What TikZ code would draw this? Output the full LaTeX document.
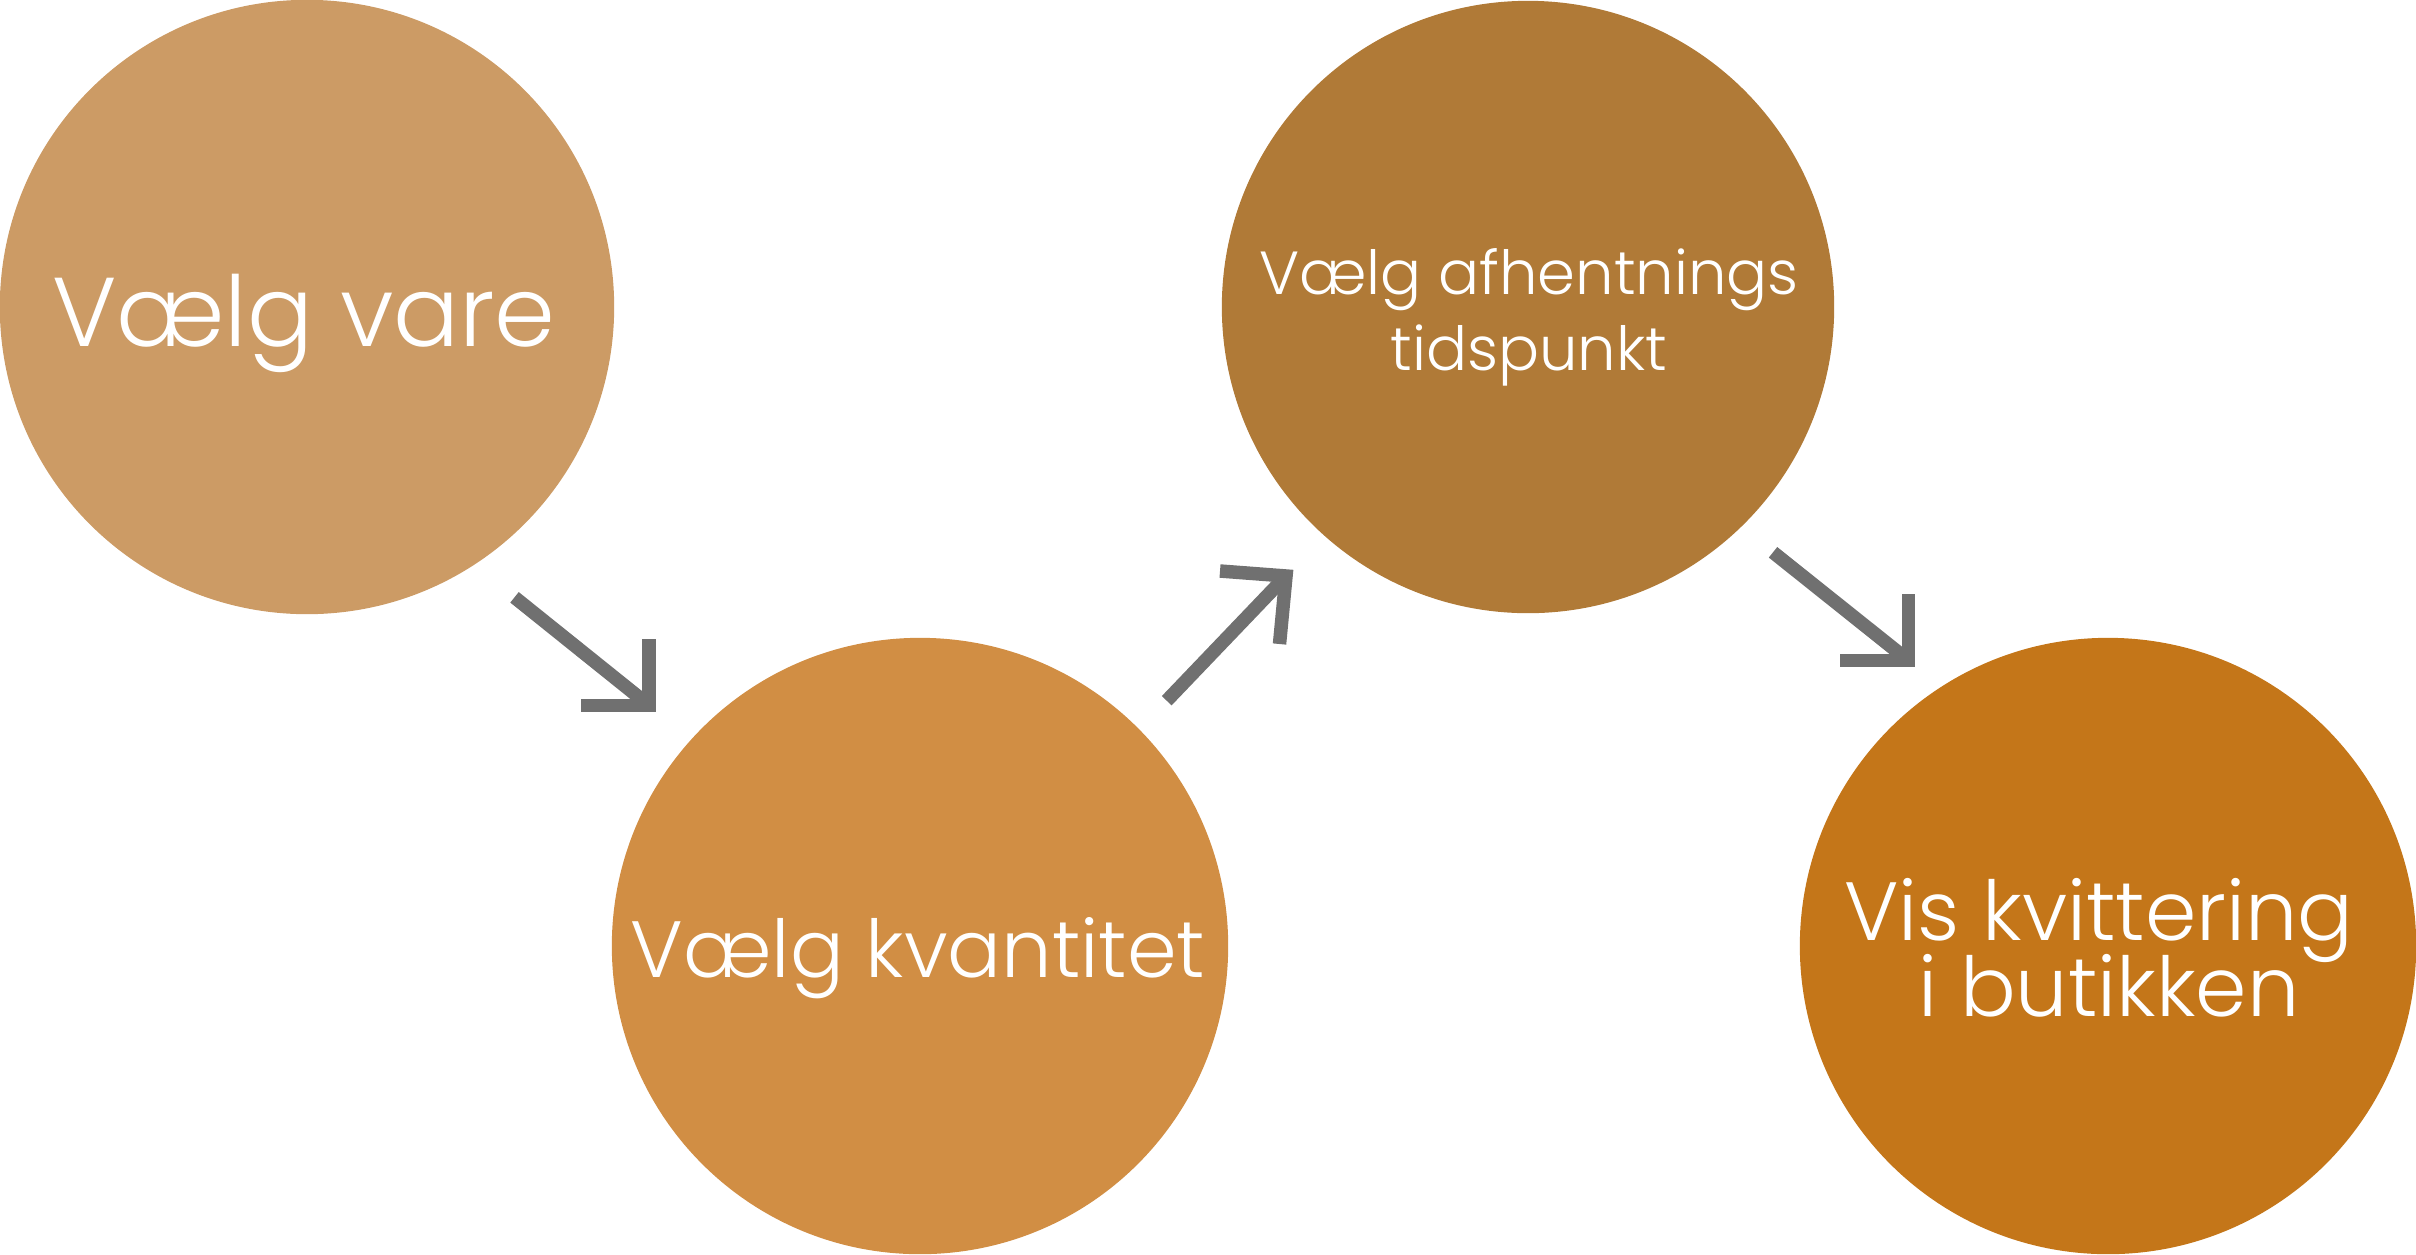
\documentclass[tikz,border=0pt]{standalone}
\usepackage{fontspec}
\setmainfont{Poppins Light}
\definecolor{cA}{HTML}{CC9B65}
\definecolor{cB}{HTML}{D18E44}
\definecolor{cC}{HTML}{B07A37}
\definecolor{cD}{HTML}{C47619}
\definecolor{arrgray}{HTML}{707070}
\tikzset{
  bubble/.style={circle, inner sep=0pt, draw=none},
  lbl/.style={text=white, inner sep=0pt, anchor=base},
  arrline/.style={draw=arrgray, line width=3.84pt, line cap=butt, line join=miter}
}
\begin{document}
\begin{tikzpicture}[x=0.01cm, y=-0.01cm]
\useasboundingbox (0,0) rectangle (2416,1254);
\node[bubble, fill=cA, minimum size=6.14cm] (c1) at (307,307) {};
\node[bubble, fill=cB, minimum size=6.16cm] (c2) at (920,946) {};
\node[bubble, fill=cC, minimum size=6.12cm] (c3) at (1528,307) {};
\node[bubble, fill=cD, minimum size=6.16cm] (c4) at (2108,946) {};

\node[lbl, font=\fontsize{27.8}{33}\selectfont] (t1) at (304,346) {Vælg vare};
\node[lbl, font=\fontsize{22.7}{27}\selectfont] (t2) at (918,977) {Vælg kvantitet};
\node[lbl, font=\fontsize{17.3}{21}\selectfont] (t3a) at (1529,294) {Vælg afhentnings};
\node[lbl, font=\fontsize{17.3}{21}\selectfont] (t3b) at (1529,370) {tidspunkt};
\node[lbl, font=\fontsize{23.5}{28}\selectfont] (t4a) at (2099,940) {Vis kvittering};
\node[lbl, font=\fontsize{23.5}{28}\selectfont] (t4b) at (2109,1016) {i butikken};

% arrow 1
\coordinate (a1s) at (514.5,597.3);
\coordinate (a1c) at (649,705.3);
\coordinate (a1v) at (649,639.3);
\coordinate (a1h) at (581,705.3);
\draw[arrline] (a1s) -- (a1c);
\draw[arrline] (a1v) -- (a1c) -- (a1h);
% arrow 2
\coordinate (a2s) at (1166.7,700.7);
\coordinate (a2c) at (1286,576);
\coordinate (a2h) at (1220,571);
\coordinate (a2v) at (1279.5,644);
\draw[arrline] (a2s) -- (a2c);
\draw[arrline] (a2h) -- (a2c) -- (a2v);
% arrow 3
\coordinate (a3s) at (1773,552.3);
\coordinate (a3c) at (1908.5,660.5);
\coordinate (a3v) at (1908.5,594);
\coordinate (a3h) at (1840,660.5);
\draw[arrline] (a3s) -- (a3c);
\draw[arrline] (a3v) -- (a3c) -- (a3h);
\end{tikzpicture}
\end{document}
